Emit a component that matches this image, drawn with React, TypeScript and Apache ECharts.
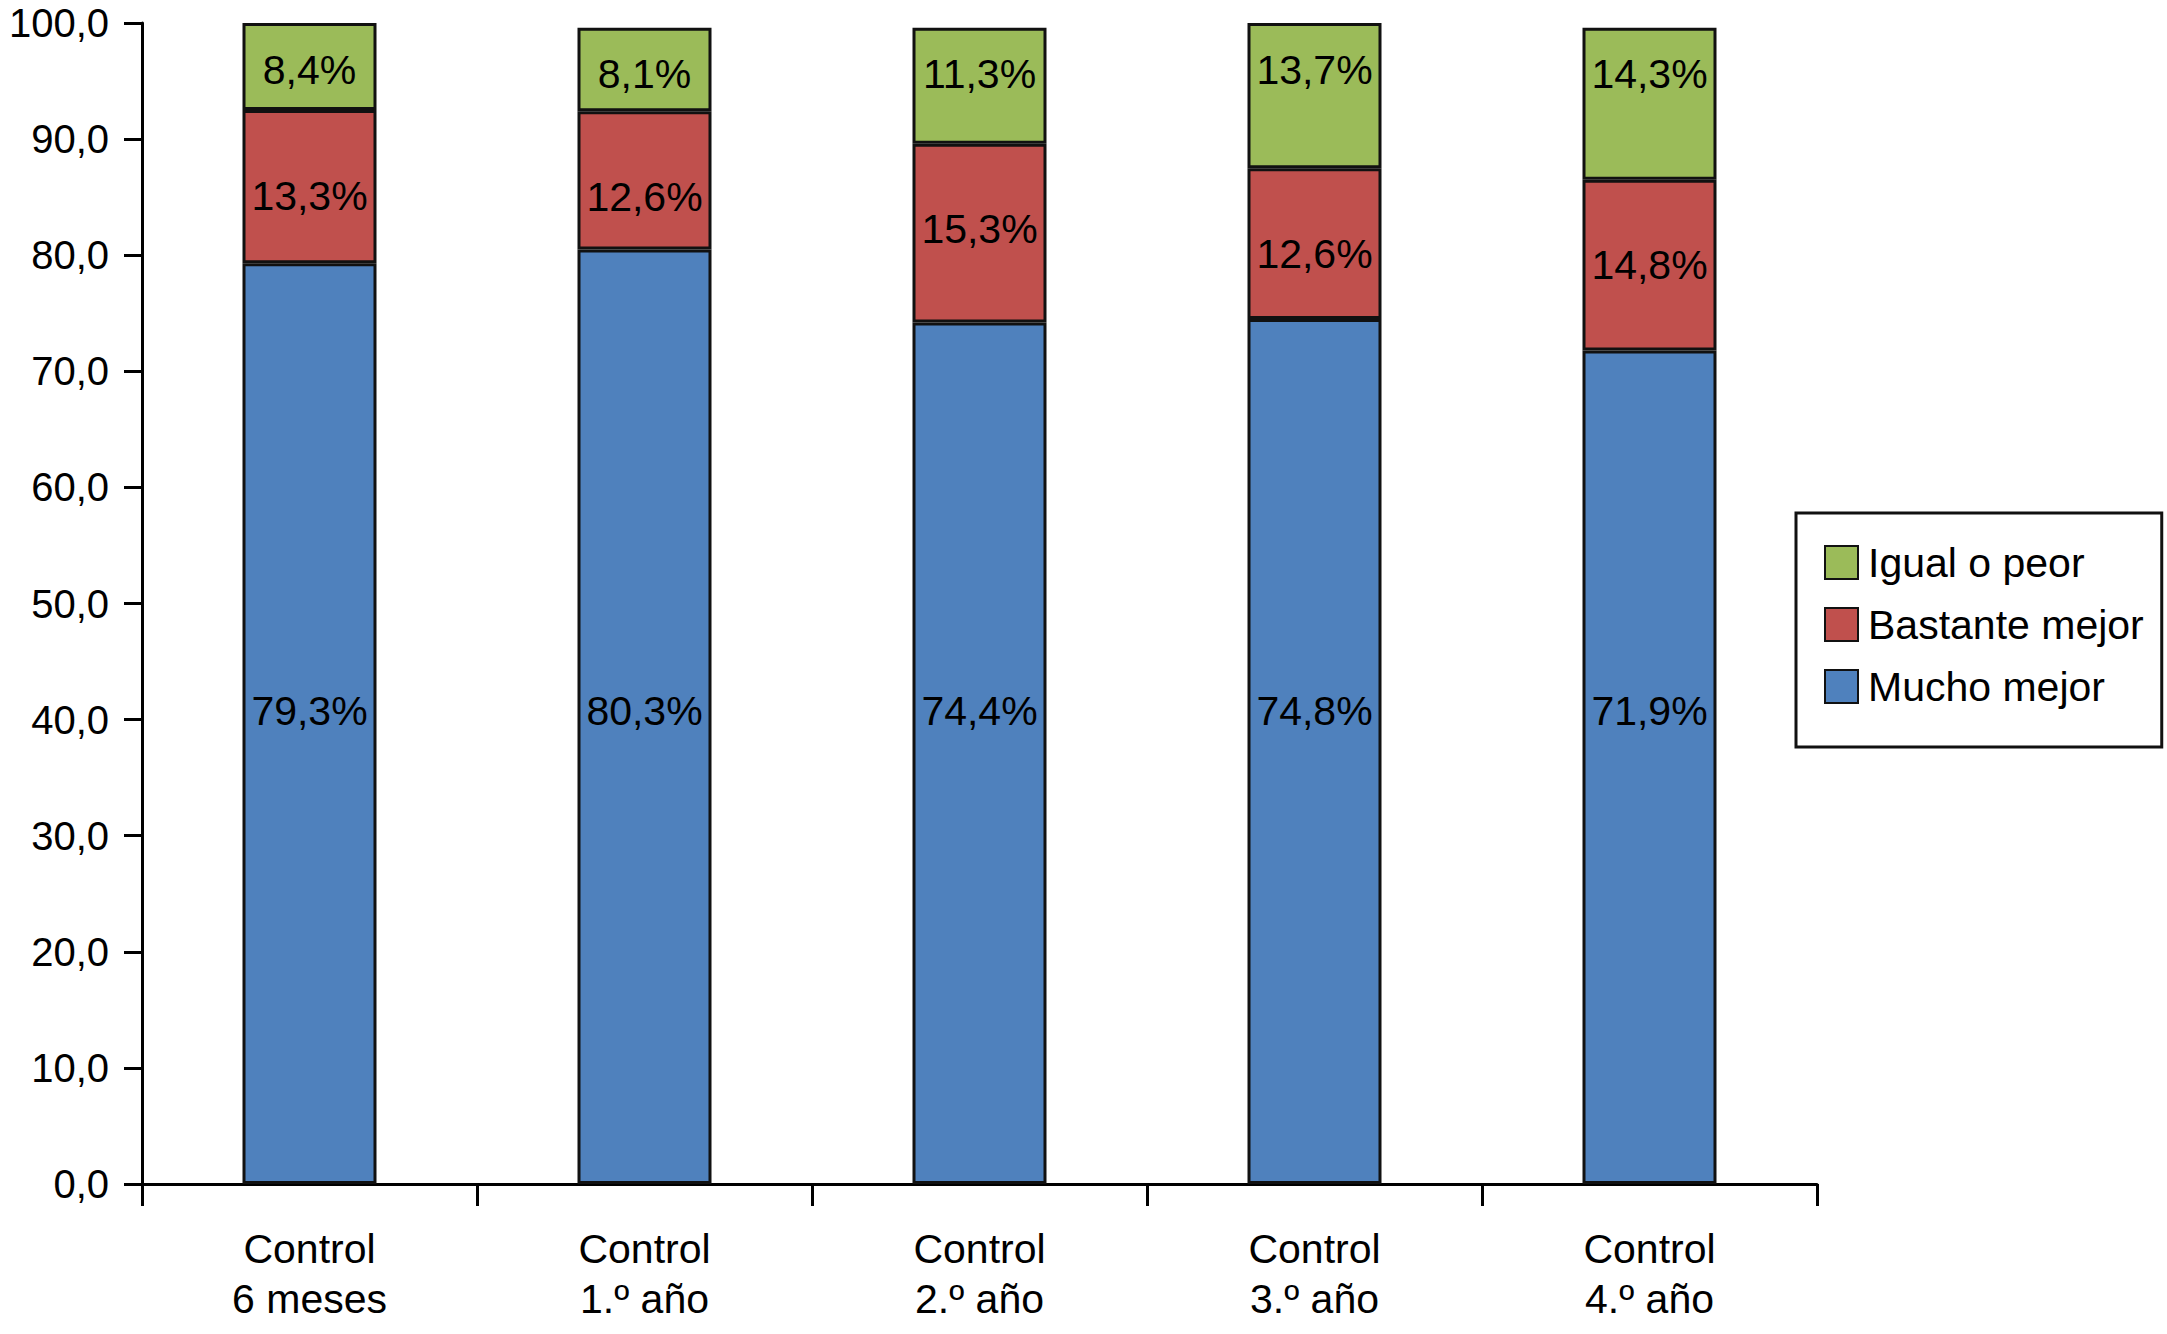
import { useEffect, useRef } from 'react'
import * as echarts from 'echarts'

// Segment heights as drawn, and the printed label text (which sums to ~101 in the source).
const CATEGORIES = ['Control\n6 meses', 'Control\n1.º año', 'Control\n2.º año', 'Control\n3.º año', 'Control\n4.º año']
const MUCHO = [79.3, 80.5, 74.2, 74.5, 71.8]
const BASTANTE = [13.2, 11.9, 15.4, 13.0, 14.7]
const IGUAL = [7.5, 7.2, 10.0, 12.5, 13.1]
const MUCHO_LABELS = ['79,3%', '80,3%', '74,4%', '74,8%', '71,9%']
const BASTANTE_LABELS = ['13,3%', '12,6%', '15,3%', '12,6%', '14,8%']
const IGUAL_LABELS = ['8,4%', '8,1%', '11,3%', '13,7%', '14,3%']
const SERIES_NAMES = ['Mucho mejor', 'Bastante mejor', 'Igual o peor']

const FONT = "'Liberation Sans', Arial, Helvetica, sans-serif"
const BLUE = '#4f81bd'
const RED = '#c0504d'
const GREEN = '#9bbb59'
const INK = '#000000'

// labels in the source sit at hand-placed spots, not segment centres
function series(
  name: string,
  data: number[],
  labels: string[],
  color: string,
  position: string,
  distance: number,
) {
  return {
    name,
    type: 'bar',
    stack: 'total',
    barWidth: '40%',
    data,
    itemStyle: { color, borderColor: '#111', borderWidth: 3 },
    label: {
      show: true,
      position,
      distance,
      color: INK,
      fontSize: 41,
      fontFamily: FONT,
      formatter: (p: { dataIndex: number }) => labels[p.dataIndex],
    },
  }
}

export default function App() {
  const ref = useRef<HTMLDivElement>(null)

  useEffect(() => {
    const el = ref.current
    if (!el) return
    const chart = echarts.init(el, undefined, { renderer: 'svg' })
    chart.setOption({
      animation: false,
      backgroundColor: '#fff',
      textStyle: { fontFamily: FONT },
      grid: { left: 142, right: 350, top: 23, bottom: 150, containLabel: false },
      legend: {
        orient: 'vertical',
        left: 1796,
        top: 513,
        data: ['Igual o peor', 'Bastante mejor', 'Mucho mejor'],
        itemWidth: 33,
        itemHeight: 33,
        itemGap: 21,
        padding: [29, 18, 40, 28],
        borderColor: '#111',
        borderWidth: 3,
        backgroundColor: '#fff',
        selectedMode: false,
        icon: 'rect',
        textStyle: { color: INK, fontSize: 41, fontFamily: FONT, padding: [0, 0, 0, 5] },
      },
      xAxis: {
        type: 'category',
        data: CATEGORIES,
        axisLine: { lineStyle: { color: INK, width: 3 } },
        axisTick: { show: true, length: 22, lineStyle: { color: INK, width: 3 } },
        axisLabel: { color: INK, fontSize: 41, fontFamily: FONT, lineHeight: 50, margin: 40 },
      },
      yAxis: {
        type: 'value',
        min: 0,
        max: 100,
        interval: 10,
        axisLine: { show: true, lineStyle: { color: INK, width: 3 } },
        axisTick: { show: true, length: 18, lineStyle: { color: INK, width: 3 } },
        splitLine: { show: false },
        axisLabel: {
          color: INK,
          fontSize: 40,
          fontFamily: FONT,
          margin: 33,
          formatter: (v: number) => v.toFixed(1).replace('.', ','),
        },
      },
      series: [
        series(SERIES_NAMES[0], MUCHO, MUCHO_LABELS, BLUE, 'insideBottom', 453),
        series(SERIES_NAMES[1], BASTANTE, BASTANTE_LABELS, RED, 'insideTop', 65),
        series(SERIES_NAMES[2], IGUAL, IGUAL_LABELS, GREEN, 'insideTop', 26),
      ],
    })
    return () => chart.dispose()
  }, [])

  return <div ref={ref} style={{ position: 'fixed', left: 0, top: 0, width: 2167, height: 1334 }} />
}
